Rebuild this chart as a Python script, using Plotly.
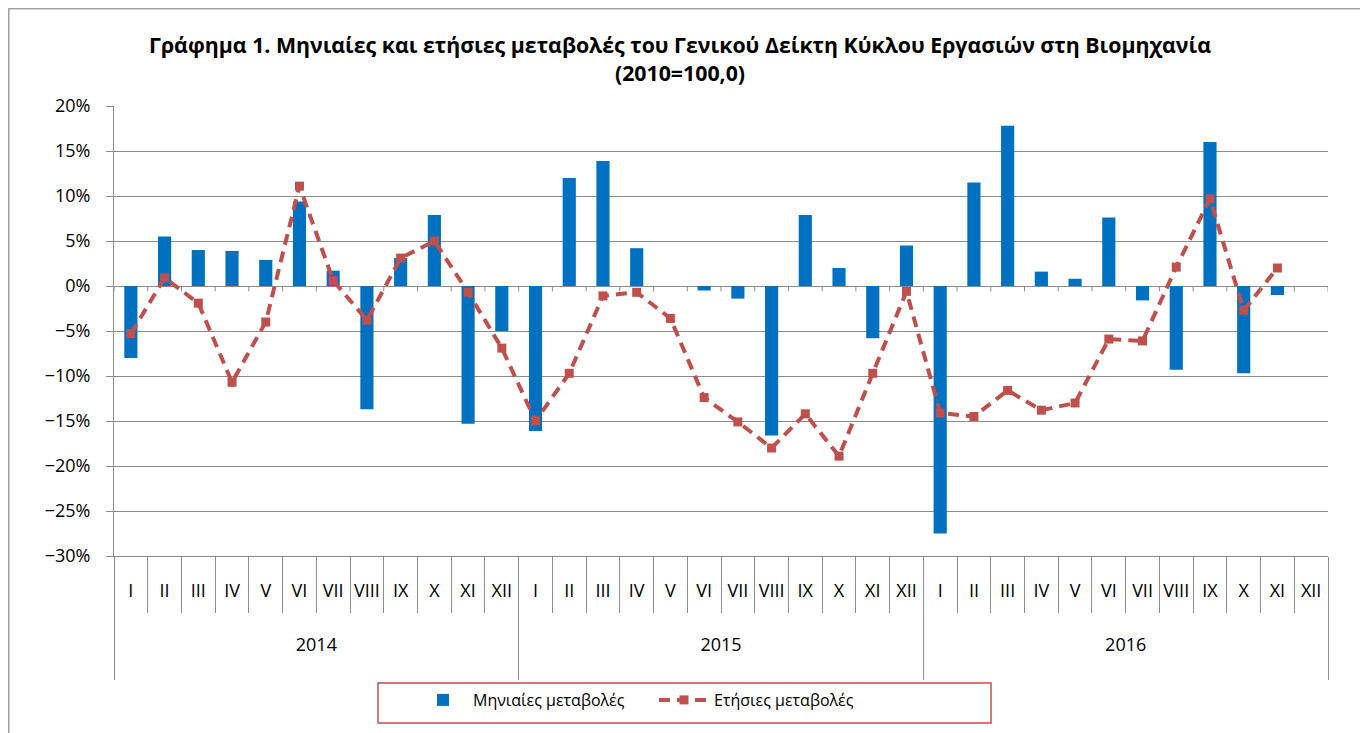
import plotly.graph_objects as go

years = ["2014", "2015", "2016"]
months = ["I", "II", "III", "IV", "V", "VI", "VII", "VIII", "IX", "X", "XI", "XII"]

monthly_2014 = [-8.0, 5.5, 4.0, 3.9, 2.9, 9.4, 1.7, -13.7, 3.1, 7.9, -15.3, -5.0]
monthly_2015 = [-16.1, 12.0, 13.9, 4.2, 0.0, -0.5, -1.4, -16.6, 7.9, 2.0, -5.8, 4.5]
monthly_2016 = [-27.5, 11.5, 17.8, 1.6, 0.8, 7.6, -1.6, -9.3, 16.0, -9.7, -1.0, None]

annual_2014 = [-5.3, 0.9, -1.9, -10.7, -4.0, 11.1, 0.6, -3.8, 3.1, 5.0, -0.7, -6.9]
annual_2015 = [-15.0, -9.7, -1.1, -0.7, -3.6, -12.4, -15.1, -18.0, -14.2, -18.9, -9.7, -0.6]
annual_2016 = [-14.1, -14.5, -11.6, -13.8, -13.0, -5.9, -6.1, 2.1, 9.7, -2.7, 2.0, None]

series_names = ["Μηνιαίες μεταβολές", "Ετήσιες μεταβολές"]
title_line1 = "Γράφημα 1. Μηνιαίες και ετήσιες μεταβολές του Γενικού Δείκτη Κύκλου Εργασιών στη Βιομηχανία"
title_line2 = "(2010=100,0)"

# second-level (year) labels are pushed down below the month labels
x_year = ["<br><br>" + y + "<br> " for y in years for _ in months]
x_month = months * len(years)
monthly = [None if v is None else v / 100 for v in monthly_2014 + monthly_2015 + monthly_2016]
annual = [None if v is None else v / 100 for v in annual_2014 + annual_2015 + annual_2016]

FONT = "Open Sans"
GRID = "#8C8C8C"
BLUE = "#0070C0"
RED = "#C0504D"

# the plotly div sits 8px inside the page (body margin)
W, H = 1360, 725
L, T = 106, 98
PW, PH = 1214, 450
OFF = 8


def px(xp):
    return (xp - OFF - L) / PW


def py(yp):
    return (T + PH - (yp - OFF)) / PH


fig = go.Figure()
fig.add_trace(go.Bar(
    x=[x_year, x_month], y=monthly, name=series_names[0],
    marker=dict(color=BLUE, line=dict(width=0)),
))
fig.add_trace(go.Scatter(
    x=[x_year, x_month], y=annual, name=series_names[1],
    mode="lines+markers",
    line=dict(color=RED, width=4, dash="11px,7px"),
    marker=dict(symbol="square", size=9, color=RED),
    connectgaps=False,
))

n = len(x_month)
shapes = []
for i in range(n + 1):
    shapes.append(dict(type="line", xref="x2", yref="y", x0=i - 0.5, x1=i - 0.5,
                       y0=0, y1=-0.006, line=dict(color=GRID, width=1)))
# outer chart border
shapes.append(dict(type="rect", xref="paper", yref="paper",
                   x0=px(8.75), x1=px(1362), y0=py(740), y1=py(8.75),
                   line=dict(color="#A0A0A0", width=1.5), fillcolor="rgba(0,0,0,0)", layer="below"))
# legend frame
shapes.append(dict(type="rect", xref="paper", yref="paper",
                   x0=px(378), x1=px(991), y0=py(723), y1=py(683),
                   line=dict(color=RED, width=1.5), fillcolor="rgba(0,0,0,0)", layer="below"))

fig.update_layout(
    width=W, height=H,
    margin=dict(l=L, r=W - L - PW, t=T, b=H - T - PH, autoexpand=False),
    paper_bgcolor="white", plot_bgcolor="white",
    font=dict(family=FONT, size=17, color="black"),
    title=dict(text=f"<b>{title_line1}</b><br><b>{title_line2}</b>",
               x=(680 - OFF) / W, xanchor="center", y=1 - 45 / H, yanchor="top",
               font=dict(family=FONT, size=21.3, color="black")),
    bargap=0.61,
    showlegend=True,
    legend=dict(orientation="h", x=px(413), xanchor="left",
                y=py(683), yanchor="top",
                borderwidth=0, bgcolor="rgba(0,0,0,0)",
                font=dict(family=FONT, size=16), itemwidth=50,
                entrywidth=176),
    xaxis=dict(type="multicategory", range=[-0.5, n - 0.5], showgrid=False,
               showline=True, linecolor=GRID, linewidth=1,
               ticks="outside", ticklen=56, tickcolor=GRID, tickson="boundaries",
               ticklabelstandoff=18, tickangle=0,
               showdividers=True, dividercolor=GRID, dividerwidth=1,
               tickfont=dict(family=FONT, size=18)),
    xaxis2=dict(overlaying="x", range=[-0.5, n - 0.5], visible=False, showgrid=False),
    yaxis=dict(range=[-0.30, 0.20], dtick=0.05, tickformat=".0%", showgrid=True,
               gridcolor=GRID, gridwidth=1, showline=True, linecolor=GRID, linewidth=1,
               ticks="outside", ticklen=7, tickcolor=GRID, zeroline=True,
               zerolinecolor=GRID, zerolinewidth=1, tickfont=dict(family=FONT, size=18),
               ticklabelstandoff=12),
    shapes=shapes,
)

fig.write_html("out.html")
